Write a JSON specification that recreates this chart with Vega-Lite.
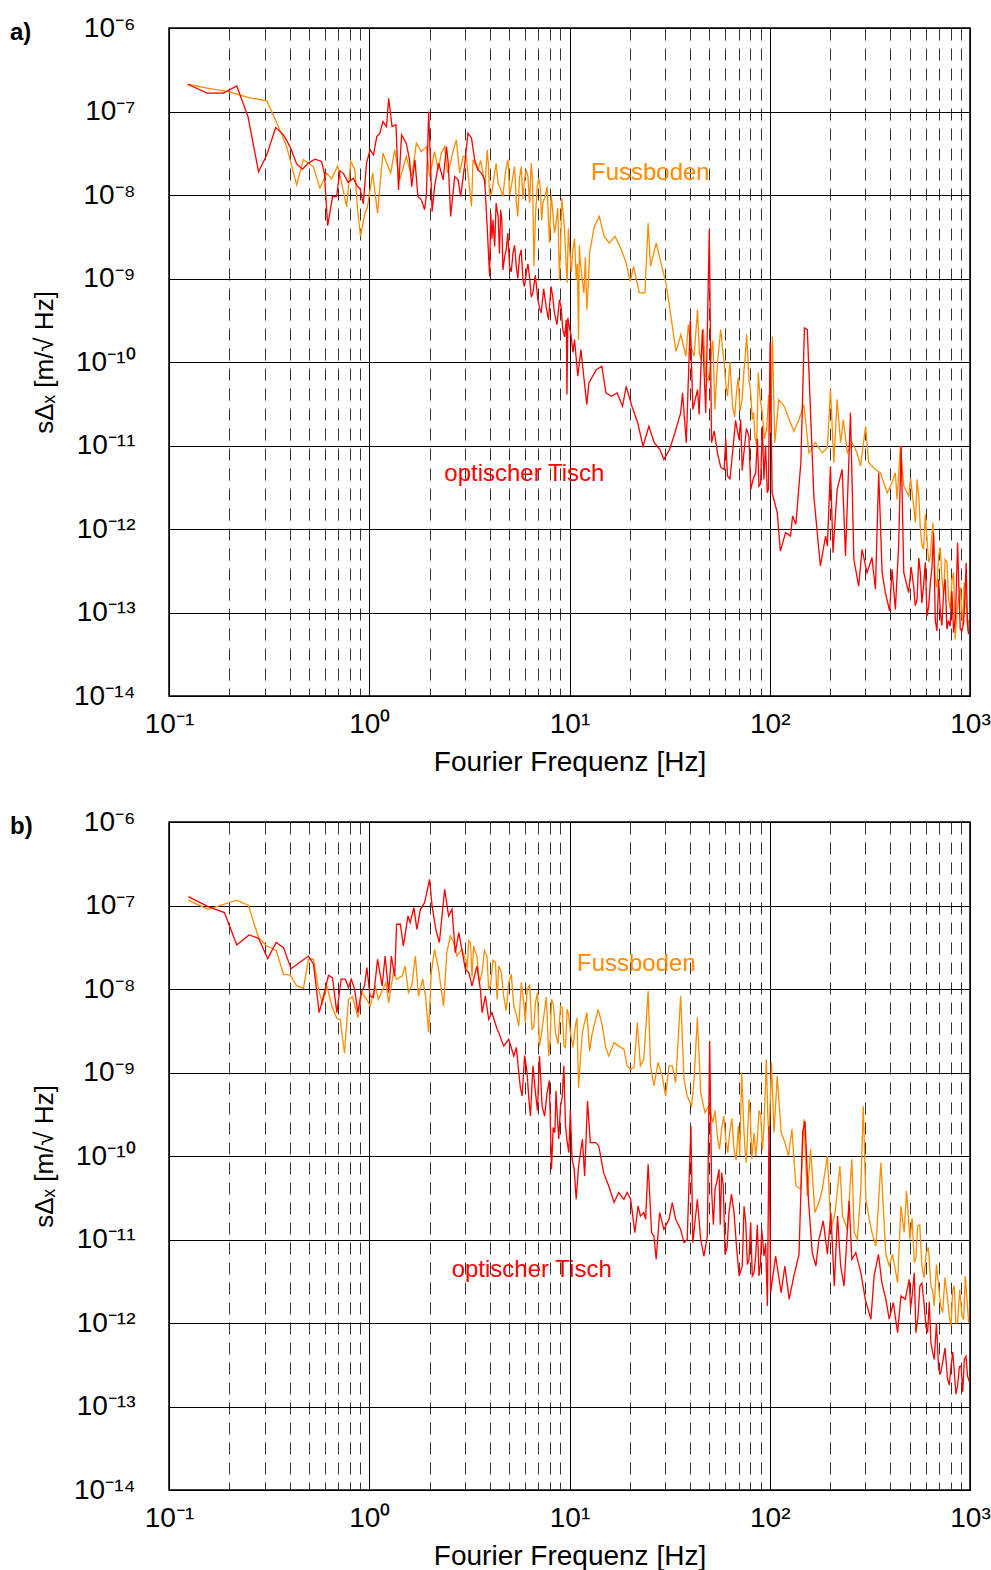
{
"$schema": "https://vega.github.io/schema/vega-lite/v6.json",
"autosize": {"type": "none"},
"padding": {"left": 169, "top": 28, "right": 822, "bottom": 1542},
"background": "white",
"bounds": "flush",
"spacing": 126,
"datasets": {
"aF": [
{"f":0.124,"s":2.12e-7},{"f":0.155,"s":1.90e-7},{"f":0.198,"s":1.73e-7},{"f":0.250,"s":1.47e-7},{"f":0.308,"s":1.34e-7},{"f":0.352,"s":6.59e-8},{"f":0.387,"s":3.80e-8},{"f":0.434,"s":1.32e-8},{"f":0.469,"s":2.64e-8},{"f":0.526,"s":2.19e-8},{"f":0.567,"s":1.21e-8},{"f":0.613,"s":1.83e-8},{"f":0.649,"s":1.56e-8},{"f":0.695,"s":2.23e-8},{"f":0.728,"s":1.40e-8},{"f":0.771,"s":7.28e-9},{"f":0.809,"s":2.52e-8},{"f":0.848,"s":2.00e-8},{"f":0.874,"s":6.65e-9},{"f":0.905,"s":3.19e-9},{"f":0.951,"s":6.07e-9},{"f":0.977,"s":6.97e-9},{"f":1.04,"s":1.83e-8},{"f":1.10,"s":6.07e-9},{"f":1.17,"s":3.17e-8},{"f":1.28,"s":1.83e-8},{"f":1.34,"s":3.48e-8},{"f":1.42,"s":1.52e-8},{"f":1.53,"s":2.89e-8},{"f":1.63,"s":1.66e-8},{"f":1.72,"s":4.18e-8},{"f":1.82,"s":3.31e-8},{"f":1.93,"s":3.80e-8},{"f":2.00,"s":1.66e-8},{"f":2.12,"s":3.31e-8},{"f":2.21,"s":2.00e-8},{"f":2.29,"s":3.17e-8},{"f":2.38,"s":3.80e-8},{"f":2.46,"s":1.83e-8},{"f":2.52,"s":2.19e-8},{"f":2.62,"s":3.31e-8},{"f":2.72,"s":4.57e-8},{"f":2.83,"s":1.83e-8},{"f":2.94,"s":2.89e-8},{"f":3.05,"s":2.89e-8},{"f":3.24,"s":7.28e-9},{"f":3.30,"s":2.64e-8},{"f":3.49,"s":2.00e-8},{"f":3.70,"s":1.83e-8},{"f":3.88,"s":3.48e-8},{"f":3.99,"s":9.6e-9},{"f":4.20,"s":1.66e-8},{"f":4.40,"s":1.39e-8},{"f":4.65,"s":9.6e-9},{"f":4.93,"s":2.64e-8},{"f":5.12,"s":1.26e-8},{"f":5.32,"s":2.19e-8},{"f":5.52,"s":5.53e-9},{"f":5.74,"s":2.19e-8},{"f":5.96,"s":1.52e-8},{"f":6.20,"s":1.66e-8},{"f":6.44,"s":2.41e-8},{"f":6.64,"s":1.40e-9},{"f":6.90,"s":1.26e-8},{"f":7.16,"s":1.15e-8},{"f":7.36,"s":8.0e-9},{"f":7.73,"s":1.26e-8},{"f":7.94,"s":2.66e-9},{"f":8.26,"s":6.07e-9},{"f":8.57,"s":4.61e-9},{"f":8.91,"s":9.7e-10},{"f":9.15,"s":9.18e-9},{"f":9.43,"s":4.20e-9},{"f":9.73,"s":8.83e-10},{"f":10.0,"s":2.42e-9},{"f":10.4,"s":2.21e-9},{"f":10.8,"s":9.7e-10},{"f":11.1,"s":1.85e-10},{"f":11.3,"s":1.68e-9},{"f":11.8,"s":6.71e-10},{"f":12.2,"s":4.24e-10},{"f":12.6,"s":2.02e-9},{"f":13.3,"s":4.20e-9},{"f":14.1,"s":5.53e-9},{"f":14.9,"s":3.19e-9},{"f":15.8,"s":2.66e-9},{"f":16.9,"s":3.19e-9},{"f":18.0,"s":2.32e-9},{"f":19.2,"s":1.53e-9},{"f":20.1,"s":9.23e-10},{"f":20.9,"s":1.40e-9},{"f":22.3,"s":6.71e-10},{"f":23.8,"s":6.71e-10},{"f":24.7,"s":4.61e-9},{"f":25.4,"s":1.40e-9},{"f":27.1,"s":2.66e-9},{"f":28.9,"s":1.40e-9},{"f":30.3,"s":8.83e-10},{"f":32.1,"s":3.52e-10},{"f":34.0,"s":1.34e-10},{"f":36.0,"s":2.13e-10},{"f":38.1,"s":1.17e-10},{"f":40.4,"s":1.54e-10},{"f":41.9,"s":1.17e-10},{"f":43.6,"s":4.24e-10},{"f":45.3,"s":1.07e-10},{"f":47.9,"s":6.75e-11},{"f":50.7,"s":1.07e-10},{"f":53.2,"s":2.70e-11},{"f":55.2,"s":1.17e-10},{"f":56.9,"s":2.44e-10},{"f":59.2,"s":9.75e-11},{"f":61.5,"s":3.89e-11},{"f":65.2,"s":2.95e-11},{"f":68.4,"s":4.68e-11},{"f":71.0,"s":2.57e-11},{"f":74.4,"s":8.11e-11},{"f":76.7,"s":2.13e-10},{"f":78.7,"s":6.15e-11},{"f":81.8,"s":2.05e-11},{"f":84.3,"s":1.29e-11},{"f":87.7,"s":7.41e-11},{"f":91.8,"s":2.46e-11},{"f":96.5,"s":1.55e-11},{"f":101,"s":1.42e-11},{"f":103,"s":2.03e-10},{"f":106,"s":1.08e-11},{"f":109,"s":2.24e-11},{"f":111,"s":3.55e-11},{"f":118,"s":2.95e-11},{"f":125,"s":2.05e-11},{"f":132,"s":1.48e-11},{"f":140,"s":2.05e-11},{"f":148,"s":3.09e-11},{"f":157,"s":8.18e-12},{"f":169,"s":1.08e-11},{"f":183,"s":8.18e-12},{"f":194,"s":9.38e-12},{"f":201,"s":4.68e-11},{"f":209,"s":6.21e-12},{"f":217,"s":3.55e-11},{"f":226,"s":1.08e-11},{"f":233,"s":2.05e-11},{"f":244,"s":8.18e-12},{"f":258,"s":1.08e-11},{"f":273,"s":8.18e-12},{"f":284,"s":5.65e-12},{"f":301,"s":1.70e-11},{"f":312,"s":6.21e-12},{"f":337,"s":5.16e-12},{"f":357,"s":4.71e-12},{"f":386,"s":2.72e-12},{"f":408,"s":3.58e-12},{"f":424,"s":4.71e-12},{"f":432,"s":2.26e-12},{"f":449,"s":9.8e-12},{"f":467,"s":3.26e-12},{"f":494,"s":2.48e-12},{"f":523,"s":1.88e-12},{"f":544,"s":3.92e-12},{"f":565,"s":9.89e-13},{"f":586,"s":5.70e-13},{"f":610,"s":7.52e-13},{"f":634,"s":4.74e-13},{"f":653,"s":1.19e-12},{"f":671,"s":2.49e-13},{"f":697,"s":4.74e-13},{"f":725,"s":2.49e-13},{"f":752,"s":4.33e-13},{"f":782,"s":1.44e-13},{"f":813,"s":2.49e-13},{"f":844,"s":4.78e-14},{"f":877,"s":1.44e-13},{"f":911,"s":9.98e-14},{"f":935,"s":2.28e-13},{"f":965,"s":9.08e-14},{"f":983,"s":8.29e-14},
{"f":3.60,"s":2.6e-8},{"f":3.79,"s":1.3e-8},{"f":3.94,"s":2.2e-8},{"f":4.10,"s":1.1e-8},{"f":4.30,"s":2.4e-8},{"f":4.52,"s":1.2e-8},{"f":4.79,"s":1.9e-8},{"f":5.02,"s":1.0e-8},{"f":5.22,"s":1.7e-8},{"f":5.42,"s":8.5e-9},{"f":5.63,"s":1.6e-8},{"f":5.85,"s":9.0e-9},{"f":6.08,"s":2.0e-8},{"f":6.32,"s":8.0e-9},{"f":6.54,"s":1.5e-8},{"f":6.77,"s":6.0e-9},{"f":7.03,"s":1.6e-8},{"f":7.26,"s":5.0e-9},{"f":7.55,"s":9.5e-9},{"f":7.84,"s":5.5e-9},{"f":8.10,"s":1.0e-8},{"f":8.41,"s":3.5e-9},{"f":8.74,"s":7.0e-9},{"f":9.03,"s":2.5e-9},{"f":9.29,"s":6.0e-9},{"f":9.58,"s":1.8e-9},{"f":9.87,"s":4.0e-9},{"f":10.2,"s":1.2e-9},{"f":10.6,"s":3.0e-9},{"f":10.95,"s":1.5e-9},{"f":11.2,"s":2.5e-9},{"f":11.55,"s":1.0e-9},{"f":12.0,"s":1.8e-9},{"f":12.4,"s":8.0e-10},
{"f":39.2,"s":2.8e-10},{"f":42.7,"s":2.2e-10},{"f":44.5,"s":1.3e-10},{"f":46.6,"s":2.5e-10},{"f":49.3,"s":6.0e-11},{"f":52.0,"s":1.8e-10},{"f":54.2,"s":6.0e-11},{"f":58.0,"s":1.5e-10},{"f":60.3,"s":5.5e-11},{"f":63.3,"s":1.0e-10},{"f":66.8,"s":2.2e-11},{"f":69.7,"s":6.5e-11},{"f":72.7,"s":3.5e-11},{"f":75.5,"s":1.2e-10},{"f":80.2,"s":4.5e-11},{"f":83.0,"s":2.5e-11},{"f":86.0,"s":1.0e-11},{"f":89.7,"s":3.5e-11},{"f":94.1,"s":1.2e-11},{"f":98.7,"s":4.0e-11},
{"f":505,"s":4.0e-12},{"f":534,"s":1.2e-12},{"f":555,"s":2.5e-12},{"f":575,"s":6.5e-13},{"f":598,"s":1.5e-12},{"f":622,"s":4.0e-13},{"f":646,"s":9.0e-13},{"f":684,"s":2.0e-13},{"f":711,"s":6.0e-13},{"f":738,"s":1.6e-13},{"f":767,"s":4.0e-13},{"f":796,"s":1.1e-13},{"f":828,"s":3.0e-13},{"f":860,"s":1.0e-13},{"f":894,"s":2.0e-13},{"f":922,"s":7.0e-14},{"f":950,"s":1.6e-13},{"f":975,"s":6.0e-14}
],
"aT": [
{"f":0.124,"s":2.12e-7},{"f":0.155,"s":1.66e-7},{"f":0.187,"s":1.66e-7},{"f":0.218,"s":2.02e-7},{"f":0.248,"s":8.69e-8},{"f":0.280,"s":1.90e-8},{"f":0.308,"s":3.03e-8},{"f":0.341,"s":6.41e-8},{"f":0.373,"s":5.25e-8},{"f":0.402,"s":3.80e-8},{"f":0.434,"s":2.36e-8},{"f":0.464,"s":2.04e-8},{"f":0.497,"s":2.41e-8},{"f":0.536,"s":2.69e-8},{"f":0.578,"s":2.52e-8},{"f":0.597,"s":1.83e-8},{"f":0.620,"s":4.29e-9},{"f":0.656,"s":9.6e-9},{"f":0.687,"s":9.6e-9},{"f":0.714,"s":1.95e-8},{"f":0.742,"s":1.83e-8},{"f":0.785,"s":1.41e-8},{"f":0.832,"s":1.59e-8},{"f":0.874,"s":1.26e-8},{"f":0.898,"s":1.21e-8},{"f":0.934,"s":7.85e-9},{"f":0.969,"s":2.41e-8},{"f":1.01,"s":3.48e-8},{"f":1.05,"s":3.03e-8},{"f":1.09,"s":5.01e-8},{"f":1.13,"s":5.50e-8},{"f":1.17,"s":7.57e-8},{"f":1.22,"s":6.59e-8},{"f":1.25,"s":1.44e-7},{"f":1.30,"s":6.59e-8},{"f":1.36,"s":6.92e-8},{"f":1.40,"s":1.15e-8},{"f":1.45,"s":5.25e-8},{"f":1.53,"s":4.18e-8},{"f":1.59,"s":2.64e-8},{"f":1.63,"s":1.26e-8},{"f":1.69,"s":2.64e-8},{"f":1.75,"s":9.6e-9},{"f":1.82,"s":8.77e-9},{"f":1.89,"s":6.65e-9},{"f":1.93,"s":1.05e-8},{"f":1.98,"s":9.98e-8},{"f":2.03,"s":1.83e-8},{"f":2.06,"s":6.35e-9},{"f":2.12,"s":1.26e-8},{"f":2.22,"s":2.41e-8},{"f":2.34,"s":1.52e-8},{"f":2.43,"s":3.80e-8},{"f":2.48,"s":2.41e-8},{"f":2.55,"s":5.53e-9},{"f":2.67,"s":1.66e-8},{"f":2.78,"s":1.52e-8},{"f":2.86,"s":9.6e-9},{"f":2.99,"s":2.19e-8},{"f":3.11,"s":5.50e-8},{"f":3.24,"s":4.80e-8},{"f":3.36,"s":2.64e-8},{"f":3.49,"s":2.00e-8},{"f":3.63,"s":1.83e-8},{"f":3.77,"s":1.52e-8},{"f":3.88,"s":4.20e-9},{"f":3.99,"s":1.06e-9},{"f":4.04,"s":6.07e-9},{"f":4.15,"s":5.05e-9},{"f":4.23,"s":2.42e-9},{"f":4.40,"s":5.53e-9},{"f":4.53,"s":6.65e-9},{"f":4.65,"s":1.27e-9},{"f":4.83,"s":2.21e-9},{"f":5.02,"s":1.40e-9},{"f":5.22,"s":2.02e-9},{"f":5.42,"s":1.40e-9},{"f":5.63,"s":1.84e-9},{"f":5.85,"s":9.7e-10},{"f":6.08,"s":1.16e-9},{"f":6.31,"s":1.06e-9},{"f":6.56,"s":6.71e-10},{"f":6.95,"s":5.57e-10},{"f":7.22,"s":3.86e-10},{"f":7.64,"s":4.63e-10},{"f":8.09,"s":8.05e-10},{"f":8.41,"s":3.86e-10},{"f":8.91,"s":5.57e-10},{"f":9.26,"s":2.44e-10},{"f":9.64,"s":3.21e-10},{"f":9.71,"s":4.07e-11},{"f":9.81,"s":3.37e-10},{"f":10.2,"s":2.03e-10},{"f":10.6,"s":1.85e-10},{"f":11.0,"s":6.75e-11},{"f":11.4,"s":1.41e-10},{"f":12.2,"s":3.09e-11},{"f":12.5,"s":5.62e-11},{"f":13.6,"s":8.11e-11},{"f":14.5,"s":8.89e-11},{"f":15.2,"s":4.27e-11},{"f":16.2,"s":3.89e-11},{"f":17.3,"s":4.27e-11},{"f":18.4,"s":2.95e-11},{"f":19.2,"s":5.12e-11},{"f":20.5,"s":2.95e-11},{"f":21.9,"s":1.87e-11},{"f":23.3,"s":9.8e-12},{"f":24.9,"s":1.70e-11},{"f":26.5,"s":1.08e-11},{"f":28.3,"s":8.95e-12},{"f":29.6,"s":6.81e-12},{"f":31.6,"s":8.95e-12},{"f":33.6,"s":1.42e-11},{"f":35.9,"s":2.46e-11},{"f":36.7,"s":4.27e-11},{"f":38.3,"s":1.08e-11},{"f":40.1,"s":3.13e-10},{"f":41.3,"s":2.70e-11},{"f":43.6,"s":4.68e-11},{"f":44.4,"s":2.35e-11},{"f":46.1,"s":2.44e-10},{"f":47.9,"s":2.46e-11},{"f":49.9,"s":3.84e-9},{"f":51.2,"s":1.08e-11},{"f":54.8,"s":8.18e-12},{"f":59.2,"s":5.16e-12},{"f":61.5,"s":4.30e-12},{"f":65.2,"s":8.18e-12},{"f":70.2,"s":1.18e-11},{"f":71.6,"s":2.05e-11},{"f":74.3,"s":8.18e-12},{"f":78.7,"s":1.29e-11},{"f":80.4,"s":2.98e-12},{"f":85.1,"s":4.71e-12},{"f":88.3,"s":3.26e-12},{"f":91.8,"s":1.70e-11},{"f":93.5,"s":3.92e-12},{"f":97.2,"s":2.72e-12},{"f":100.4,"s":1.69e-10},{"f":102.8,"s":2.72e-12},{"f":109,"s":1.57e-12},{"f":113,"s":5.44e-13},{"f":120,"s":9.04e-13},{"f":127,"s":8.22e-13},{"f":130,"s":1.43e-12},{"f":135,"s":1.14e-12},{"f":143,"s":6.21e-12},{"f":149,"s":2.56e-10},{"f":154,"s":2.44e-10},{"f":166,"s":2.48e-12},{"f":179,"s":3.60e-13},{"f":190,"s":8.22e-13},{"f":194,"s":6.24e-13},{"f":201,"s":5.65e-12},{"f":207,"s":5.21e-13},{"f":217,"s":2.98e-12},{"f":230,"s":5.16e-12},{"f":239,"s":4.74e-13},{"f":253,"s":2.46e-11},{"f":263,"s":4.33e-13},{"f":278,"s":2.07e-13},{"f":289,"s":5.70e-13},{"f":306,"s":3.00e-13},{"f":324,"s":4.54e-13},{"f":337,"s":1.90e-13},{"f":350,"s":4.71e-12},{"f":364,"s":3.00e-13},{"f":378,"s":1.73e-13},{"f":397,"s":1.04e-13},{"f":408,"s":3.29e-13},{"f":424,"s":1.09e-13},{"f":440,"s":6.24e-13},{"f":453,"s":9.8e-12},{"f":467,"s":3.00e-13},{"f":494,"s":1.73e-13},{"f":523,"s":2.07e-13},{"f":544,"s":1.44e-13},{"f":565,"s":3.00e-13},{"f":586,"s":2.07e-13},{"f":610,"s":9.08e-14},{"f":634,"s":2.28e-13},{"f":658,"s":9.04e-13},{"f":684,"s":6.01e-14},{"f":711,"s":9.98e-14},{"f":738,"s":1.73e-13},{"f":767,"s":6.30e-14},{"f":796,"s":6.90e-14},{"f":828,"s":5.74e-14},{"f":867,"s":6.85e-13},{"f":894,"s":6.30e-14},{"f":929,"s":7.57e-14},{"f":957,"s":3.95e-13},{"f":983,"s":5.48e-14},
{"f":4.10,"s":3.0e-9},{"f":4.30,"s":8.0e-9},{"f":4.47,"s":2.0e-9},{"f":4.59,"s":5.0e-9},{"f":4.74,"s":1.8e-9},{"f":4.92,"s":3.5e-9},{"f":5.12,"s":1.2e-9},{"f":5.32,"s":2.5e-9},{"f":5.52,"s":1.0e-9},{"f":5.74,"s":2.2e-9},{"f":5.96,"s":8.0e-10},{"f":6.20,"s":1.5e-9},{"f":6.44,"s":6.0e-10},{"f":6.75,"s":1.1e-9},{"f":7.08,"s":4.5e-10},{"f":7.43,"s":7.5e-10},{"f":7.86,"s":3.2e-10},{"f":8.25,"s":6.0e-10},{"f":8.66,"s":2.8e-10},{"f":9.08,"s":4.5e-10},{"f":9.45,"s":2.0e-10},{"f":10.0,"s":2.6e-10},{"f":10.4,"s":1.3e-10},
{"f":52.8,"s":1.5e-11},{"f":56.9,"s":5.5e-12},{"f":60.3,"s":1.2e-11},{"f":63.3,"s":4.0e-12},{"f":67.5,"s":2.0e-11},{"f":72.9,"s":5.0e-12},{"f":76.5,"s":1.6e-11},{"f":82.7,"s":4.0e-12},{"f":86.8,"s":1.2e-11},{"f":90.0,"s":3.5e-12},{"f":95.3,"s":1.0e-11},{"f":98.5,"s":3.0e-12},
{"f":508,"s":3.5e-13},{"f":533,"s":1.2e-13},{"f":555,"s":4.5e-13},{"f":575,"s":1.3e-13},{"f":598,"s":4.0e-13},{"f":622,"s":1.2e-13},{"f":646,"s":3.5e-13},{"f":671,"s":8.0e-14},{"f":697,"s":2.5e-13},{"f":724,"s":7.0e-14},{"f":752,"s":2.5e-13},{"f":781,"s":8.0e-14},{"f":812,"s":1.8e-13},{"f":847,"s":9.0e-14},{"f":880,"s":2.0e-13},{"f":911,"s":6.0e-14},{"f":943,"s":1.5e-13},{"f":970,"s":8.0e-14}
],
"bF": [
{"f":0.125,"s":1.15e-7},{"f":0.157,"s":8.99e-8},{"f":0.218,"s":1.16e-7},{"f":0.249,"s":1.00e-7},{"f":0.280,"s":4.13e-8},{"f":0.308,"s":3.27e-8},{"f":0.343,"s":2.90e-8},{"f":0.373,"s":1.50e-8},{"f":0.403,"s":1.47e-8},{"f":0.434,"s":1.09e-8},{"f":0.469,"s":1.02e-8},{"f":0.497,"s":2.27e-8},{"f":0.527,"s":2.27e-8},{"f":0.558,"s":9.91e-9},{"f":0.584,"s":6.74e-9},{"f":0.614,"s":1.09e-8},{"f":0.650,"s":6.25e-9},{"f":0.689,"s":4.43e-9},{"f":0.716,"s":4.34e-9},{"f":0.752,"s":1.70e-9},{"f":0.788,"s":7.53e-9},{"f":0.825,"s":8.11e-9},{"f":0.877,"s":4.54e-9},{"f":0.918,"s":9.06e-9},{"f":0.973,"s":7.53e-9},{"f":1.01,"s":6.25e-9},{"f":1.07,"s":1.09e-8},{"f":1.11,"s":7.53e-9},{"f":1.16,"s":9.46e-9},{"f":1.21,"s":1.19e-8},{"f":1.25,"s":6.87e-9},{"f":1.32,"s":1.57e-8},{"f":1.37,"s":1.31e-8},{"f":1.46,"s":1.43e-8},{"f":1.51,"s":1.88e-8},{"f":1.57,"s":9.06e-9},{"f":1.63,"s":1.09e-8},{"f":1.70,"s":2.48e-8},{"f":1.76,"s":8.24e-9},{"f":1.85,"s":1.31e-8},{"f":1.91,"s":8.24e-9},{"f":1.98,"s":3.01e-9},{"f":2.04,"s":1.57e-8},{"f":2.12,"s":2.99e-8},{"f":2.22,"s":1.72e-8},{"f":2.35,"s":6.25e-9},{"f":2.44,"s":2.73e-8},{"f":2.54,"s":4.32e-8},{"f":2.64,"s":3.60e-8},{"f":2.74,"s":2.48e-8},{"f":2.90,"s":2.99e-8},{"f":3.08,"s":1.72e-8},{"f":3.20,"s":3.60e-8},{"f":3.32,"s":3.27e-8},{"f":3.45,"s":2.48e-8},{"f":3.66,"s":1.57e-8},{"f":3.87,"s":2.48e-8},{"f":4.03,"s":1.09e-8},{"f":4.27,"s":2.07e-8},{"f":4.43,"s":1.88e-8},{"f":4.69,"s":8.24e-9},{"f":4.97,"s":1.19e-8},{"f":5.27,"s":6.25e-9},{"f":5.58,"s":3.61e-9},{"f":5.91,"s":6.87e-9},{"f":6.14,"s":9.91e-9},{"f":6.50,"s":3.29e-9},{"f":6.76,"s":6.87e-9},{"f":7.08,"s":2.07e-9},{"f":7.44,"s":4.75e-9},{"f":7.88,"s":1.58e-9},{"f":8.13,"s":7.53e-9},{"f":8.51,"s":3.01e-9},{"f":9.02,"s":6.25e-9},{"f":9.37,"s":2.07e-9},{"f":9.73,"s":5.71e-9},{"f":10.1,"s":3.01e-9},{"f":10.7,"s":3.61e-9},{"f":11.1,"s":6.59e-10},{"f":11.6,"s":3.01e-9},{"f":12.2,"s":5.21e-9},{"f":13.0,"s":3.01e-9},{"f":13.9,"s":5.71e-9},{"f":14.6,"s":3.61e-9},{"f":15.1,"s":2.07e-9},{"f":15.7,"s":1.58e-9},{"f":16.7,"s":2.28e-9},{"f":17.6,"s":2.07e-9},{"f":18.7,"s":1.90e-9},{"f":19.4,"s":1.20e-9},{"f":20.2,"s":1.09e-9},{"f":21.0,"s":1.15e-9},{"f":21.8,"s":3.96e-9},{"f":22.6,"s":1.20e-9},{"f":23.5,"s":1.44e-9},{"f":24.7,"s":9.46e-9},{"f":25.4,"s":1.20e-9},{"f":26.4,"s":6.89e-10},{"f":27.7,"s":1.32e-9},{"f":29.0,"s":9.08e-10},{"f":30.2,"s":5.24e-10},{"f":31.4,"s":1.20e-9},{"f":32.6,"s":1.20e-9},{"f":33.9,"s":7.57e-10},{"f":35.9,"s":8.24e-9},{"f":37.3,"s":8.29e-10},{"f":38.7,"s":5.24e-10},{"f":40.7,"s":3.97e-10},{"f":41.8,"s":7.57e-10},{"f":43.5,"s":4.54e-9},{"f":45.2,"s":5.74e-10},{"f":47.5,"s":3.31e-10},{"f":49.6,"s":3.97e-10},{"f":52.0,"s":2.51e-10},{"f":54.7,"s":1.74e-10},{"f":57.5,"s":2.09e-10},{"f":60.3,"s":1.58e-10},{"f":63.1,"s":1.91e-10},{"f":66.3,"s":1.20e-10},{"f":69.7,"s":2.29e-10},{"f":70.8,"s":1.00e-10},{"f":72.4,"s":9.98e-10},{"f":74.4,"s":1.91e-10},{"f":76.4,"s":8.34e-11},{"f":78.8,"s":4.78e-10},{"f":81.3,"s":9.14e-11},{"f":83.5,"s":1.91e-10},{"f":86.7,"s":1.58e-10},{"f":90.2,"s":3.01e-10},{"f":93.6,"s":2.29e-10},{"f":96.2,"s":1.44e-9},{"f":99.2,"s":1.58e-10},{"f":102,"s":1.32e-9},{"f":105,"s":1.91e-10},{"f":109,"s":9.08e-10},{"f":114,"s":1.91e-10},{"f":119,"s":1.45e-10},{"f":124,"s":1.00e-10},{"f":129,"s":2.09e-10},{"f":135,"s":4.38e-11},{"f":143,"s":3.99e-11},{"f":148,"s":2.75e-10},{"f":154,"s":3.32e-11},{"f":160,"s":1.20e-10},{"f":168,"s":2.10e-11},{"f":176,"s":2.77e-11},{"f":183,"s":3.99e-11},{"f":194,"s":1.00e-10},{"f":202,"s":1.32e-11},{"f":212,"s":2.10e-11},{"f":224,"s":7.59e-11},{"f":231,"s":1.91e-11},{"f":244,"s":1.32e-11},{"f":257,"s":9.14e-11},{"f":264,"s":1.21e-11},{"f":274,"s":1.00e-11},{"f":285,"s":3.99e-11},{"f":293,"s":3.97e-10},{"f":302,"s":3.03e-11},{"f":314,"s":1.75e-11},{"f":324,"s":1.21e-11},{"f":339,"s":8.36e-12},{"f":359,"s":8.34e-11},{"f":380,"s":6.65e-12},{"f":395,"s":4.82e-12},{"f":410,"s":6.65e-12},{"f":435,"s":3.05e-12},{"f":452,"s":2.52e-11},{"f":469,"s":1.21e-11},{"f":482,"s":3.81e-11},{"f":501,"s":1.00e-11},{"f":527,"s":5.28e-12},{"f":547,"s":1.45e-11},{"f":575,"s":4.82e-12},{"f":603,"s":6.65e-12},{"f":638,"s":2.77e-12},{"f":663,"s":1.60e-12},{"f":697,"s":2.77e-12},{"f":730,"s":1.33e-12},{"f":773,"s":1.92e-12},{"f":804,"s":9.2e-13},{"f":835,"s":2.77e-12},{"f":867,"s":1.01e-12},{"f":912,"s":1.21e-12},{"f":947,"s":3.66e-12},{"f":984,"s":1.01e-12},
{"f":3.04,"s":2.2e-8},{"f":3.14,"s":3.8e-8},{"f":3.26,"s":1.4e-8},{"f":3.38,"s":2.8e-8},{"f":3.55,"s":1.2e-8},{"f":3.76,"s":2.9e-8},{"f":3.95,"s":1.0e-8},{"f":4.15,"s":2.2e-8},{"f":4.35,"s":7.5e-9},{"f":4.56,"s":1.6e-8},{"f":4.83,"s":5.5e-9},{"f":5.12,"s":1.5e-8},{"f":5.42,"s":5.0e-9},{"f":5.75,"s":1.2e-8},{"f":6.02,"s":4.0e-9},{"f":6.32,"s":1.1e-8},{"f":6.63,"s":3.5e-9},{"f":6.92,"s":9.0e-9},{"f":7.26,"s":3.0e-9},{"f":7.66,"s":8.0e-9},{"f":8.01,"s":2.5e-9},{"f":8.32,"s":6.5e-9},{"f":8.76,"s":2.2e-9},{"f":9.20,"s":6.0e-9},{"f":9.55,"s":2.0e-9},{"f":9.90,"s":5.0e-9},{"f":10.4,"s":2.0e-9},{"f":10.9,"s":4.5e-9},{"f":11.35,"s":1.5e-9},{"f":11.9,"s":4.0e-9},{"f":12.6,"s":1.8e-9},{"f":13.4,"s":4.0e-9},
{"f":53.3,"s":3.5e-10},{"f":56.1,"s":1.2e-10},{"f":58.9,"s":3.0e-10},{"f":61.7,"s":1.1e-10},{"f":64.7,"s":2.8e-10},{"f":68.0,"s":9.0e-11},{"f":71.6,"s":3.0e-10},{"f":75.4,"s":1.1e-10},{"f":80.0,"s":3.0e-10},{"f":85.1,"s":1.0e-10},{"f":88.4,"s":3.5e-10},{"f":91.9,"s":1.2e-10},{"f":97.8,"s":3.0e-10},
{"f":514,"s":1.8e-11},{"f":537,"s":6.0e-12},{"f":561,"s":1.5e-11},{"f":589,"s":3.5e-12},{"f":620,"s":8.0e-12},{"f":650,"s":2.5e-12},{"f":680,"s":5.0e-12},{"f":713,"s":1.6e-12},{"f":750,"s":3.5e-12},{"f":788,"s":1.2e-12},{"f":820,"s":2.5e-12},{"f":850,"s":1.0e-12},{"f":889,"s":2.5e-12},{"f":930,"s":1.1e-12},{"f":965,"s":2.0e-12}
],
"bT": [
{"f":0.125,"s":1.28e-7},{"f":0.157,"s":9.7e-8},{"f":0.189,"s":8.22e-8},{"f":0.218,"s":3.37e-8},{"f":0.251,"s":4.44e-8},{"f":0.280,"s":4.05e-8},{"f":0.311,"s":2.31e-8},{"f":0.343,"s":3.60e-8},{"f":0.373,"s":3.13e-8},{"f":0.407,"s":1.75e-8},{"f":0.452,"s":2.10e-8},{"f":0.497,"s":2.48e-8},{"f":0.527,"s":1.98e-8},{"f":0.562,"s":5.21e-9},{"f":0.591,"s":8.24e-9},{"f":0.626,"s":1.46e-8},{"f":0.655,"s":1.37e-8},{"f":0.689,"s":5.21e-9},{"f":0.724,"s":1.31e-8},{"f":0.759,"s":1.31e-8},{"f":0.788,"s":1.04e-8},{"f":0.813,"s":1.31e-8},{"f":0.845,"s":9.91e-9},{"f":0.877,"s":5.21e-9},{"f":0.912,"s":9.06e-9},{"f":0.947,"s":1.09e-8},{"f":0.973,"s":1.80e-8},{"f":1.01,"s":8.24e-9},{"f":1.05,"s":7.89e-9},{"f":1.10,"s":2.27e-8},{"f":1.16,"s":1.09e-8},{"f":1.20,"s":2.48e-8},{"f":1.25,"s":9.06e-9},{"f":1.29,"s":2.48e-8},{"f":1.34,"s":1.43e-8},{"f":1.37,"s":5.96e-8},{"f":1.43,"s":5.96e-8},{"f":1.48,"s":3.27e-8},{"f":1.56,"s":7.48e-8},{"f":1.60,"s":6.24e-8},{"f":1.67,"s":9.44e-8},{"f":1.73,"s":5.19e-8},{"f":1.80,"s":8.99e-8},{"f":1.89,"s":1.08e-7},{"f":2.00,"s":2.06e-7},{"f":2.06,"s":9.86e-8},{"f":2.15,"s":5.19e-8},{"f":2.24,"s":3.60e-8},{"f":2.38,"s":1.56e-7},{"f":2.49,"s":7.48e-8},{"f":2.59,"s":8.99e-8},{"f":2.69,"s":2.73e-8},{"f":2.80,"s":4.73e-8},{"f":2.90,"s":2.99e-8},{"f":3.02,"s":1.72e-8},{"f":3.14,"s":1.57e-8},{"f":3.26,"s":1.09e-8},{"f":3.45,"s":1.88e-8},{"f":3.59,"s":9.91e-9},{"f":3.66,"s":5.21e-9},{"f":3.80,"s":8.24e-9},{"f":3.95,"s":4.34e-9},{"f":4.10,"s":5.21e-9},{"f":4.35,"s":3.29e-9},{"f":4.43,"s":3.01e-9},{"f":4.69,"s":2.07e-9},{"f":4.97,"s":2.50e-9},{"f":5.27,"s":1.58e-9},{"f":5.58,"s":9.98e-10},{"f":5.80,"s":5.24e-10},{"f":6.14,"s":9.98e-10},{"f":6.38,"s":3.01e-10},{"f":6.76,"s":5.74e-10},{"f":7.08,"s":1.58e-9},{"f":7.29,"s":3.97e-10},{"f":7.73,"s":5.74e-10},{"f":8.13,"s":6.93e-11},{"f":8.45,"s":1.91e-10},{"f":8.67,"s":3.31e-10},{"f":9.02,"s":3.97e-10},{"f":9.37,"s":1.20e-9},{"f":9.55,"s":2.29e-10},{"f":9.92,"s":1.10e-10},{"f":10.3,"s":9.14e-11},{"f":10.8,"s":3.03e-11},{"f":11.1,"s":7.59e-11},{"f":11.6,"s":1.58e-10},{"f":11.9,"s":5.75e-11},{"f":12.3,"s":4.56e-10},{"f":12.7,"s":1.45e-10},{"f":13.5,"s":1.45e-10},{"f":14.0,"s":1.32e-10},{"f":14.8,"s":6.32e-11},{"f":15.7,"s":4.38e-11},{"f":16.7,"s":2.77e-11},{"f":17.6,"s":3.65e-11},{"f":18.7,"s":3.03e-11},{"f":19.4,"s":3.65e-11},{"f":20.2,"s":3.03e-11},{"f":21.2,"s":1.21e-11},{"f":22.0,"s":2.52e-11},{"f":22.6,"s":1.91e-11},{"f":23.5,"s":2.10e-11},{"f":24.0,"s":1.75e-11},{"f":24.7,"s":7.96e-11},{"f":25.7,"s":1.21e-11},{"f":26.4,"s":1.10e-11},{"f":27.1,"s":5.79e-12},{"f":28.2,"s":2.10e-11},{"f":29.6,"s":1.32e-11},{"f":31.4,"s":1.75e-11},{"f":32.6,"s":2.77e-11},{"f":33.9,"s":1.75e-11},{"f":35.9,"s":1.32e-11},{"f":37.3,"s":9.18e-12},{"f":38.7,"s":1.00e-11},{"f":40.4,"s":2.29e-10},{"f":41.3,"s":9.18e-12},{"f":43.5,"s":3.03e-11},{"f":45.2,"s":1.00e-11},{"f":46.9,"s":6.34e-12},{"f":48.8,"s":1.10e-11},{"f":50.1,"s":2.38e-9},{"f":51.3,"s":3.65e-11},{"f":53.3,"s":3.99e-11},{"f":55.8,"s":6.93e-11},{"f":57.5,"s":6.32e-11},{"f":59.8,"s":6.65e-12},{"f":62.6,"s":2.10e-11},{"f":66.3,"s":2.10e-11},{"f":70.3,"s":3.66e-12},{"f":72.9,"s":4.82e-12},{"f":75.9,"s":1.59e-11},{"f":78.8,"s":5.79e-12},{"f":81.8,"s":3.66e-12},{"f":85.1,"s":6.34e-12},{"f":88.4,"s":3.66e-12},{"f":91.2,"s":1.32e-11},{"f":93.6,"s":6.34e-12},{"f":97.3,"s":1.60e-12},{"f":99.2,"s":2.29e-10},{"f":101,"s":2.31e-12},{"f":107,"s":6.34e-12},{"f":114,"s":2.31e-12},{"f":119,"s":4.82e-12},{"f":125,"s":1.92e-12},{"f":132,"s":3.66e-12},{"f":140,"s":6.65e-12},{"f":146,"s":1.91e-10},{"f":150,"s":2.62e-10},{"f":156,"s":3.03e-11},{"f":163,"s":6.97e-12},{"f":170,"s":4.82e-12},{"f":176,"s":1.00e-11},{"f":185,"s":1.67e-11},{"f":194,"s":6.65e-12},{"f":202,"s":2.10e-11},{"f":210,"s":2.77e-12},{"f":218,"s":1.91e-11},{"f":226,"s":4.82e-12},{"f":235,"s":2.77e-12},{"f":249,"s":2.89e-11},{"f":257,"s":5.79e-12},{"f":269,"s":6.97e-12},{"f":285,"s":4.02e-12},{"f":300,"s":1.92e-12},{"f":320,"s":1.11e-12},{"f":332,"s":3.66e-12},{"f":349,"s":6.65e-12},{"f":363,"s":3.05e-12},{"f":380,"s":1.92e-12},{"f":395,"s":1.11e-12},{"f":414,"s":1.75e-12},{"f":435,"s":7.67e-13},{"f":452,"s":2.10e-12},{"f":475,"s":1.92e-12},{"f":497,"s":3.33e-12},{"f":516,"s":2.31e-12},{"f":537,"s":7.67e-13},{"f":562,"s":2.77e-12},{"f":591,"s":1.60e-12},{"f":614,"s":7.67e-13},{"f":638,"s":5.82e-13},{"f":663,"s":3.67e-13},{"f":697,"s":2.79e-13},{"f":730,"s":3.36e-13},{"f":773,"s":2.12e-13},{"f":804,"s":3.05e-13},{"f":835,"s":2.55e-13},{"f":851,"s":1.40e-13},{"f":867,"s":1.76e-13},{"f":902,"s":3.05e-13},{"f":937,"s":3.67e-13},{"f":972,"s":2.32e-13},
{"f":5.43,"s":2.0e-9},{"f":5.69,"s":6.5e-10},{"f":5.97,"s":1.6e-9},{"f":6.26,"s":5.0e-10},{"f":6.57,"s":1.2e-9},{"f":6.92,"s":3.5e-10},{"f":7.18,"s":9.0e-10},{"f":7.51,"s":3.0e-10},{"f":7.93,"s":8.0e-10},{"f":8.29,"s":2.2e-10},{"f":8.56,"s":6.0e-10},{"f":8.84,"s":1.6e-10},{"f":9.19,"s":5.0e-10},{"f":9.73,"s":1.5e-10},{"f":10.1,"s":3.5e-10},{"f":10.55,"s":7.0e-11},
{"f":52.3,"s":1.5e-11},{"f":54.5,"s":5.0e-11},{"f":56.6,"s":1.5e-11},{"f":58.6,"s":4.5e-11},{"f":61.2,"s":8.0e-12},{"f":64.4,"s":3.5e-11},{"f":68.3,"s":8.0e-12},{"f":74.4,"s":2.5e-11},{"f":77.3,"s":5.0e-12},{"f":80.3,"s":1.6e-11},{"f":83.4,"s":4.0e-12},{"f":86.7,"s":1.5e-11},{"f":89.8,"s":5.0e-12},{"f":95.4,"s":9.0e-12},
{"f":505,"s":1.5e-12},{"f":527,"s":4.0e-12},{"f":550,"s":1.2e-12},{"f":575,"s":3.0e-12},{"f":603,"s":9.0e-13},{"f":626,"s":1.8e-12},{"f":650,"s":4.5e-13},{"f":680,"s":1.0e-12},{"f":713,"s":2.5e-13},{"f":750,"s":5.0e-13},{"f":788,"s":1.8e-13},{"f":820,"s":4.5e-13},{"f":859,"s":1.6e-13},{"f":885,"s":3.0e-13},{"f":920,"s":1.5e-13},{"f":955,"s":4.0e-13},{"f":990,"s":2.0e-13}
],
"aL": [{"f":12.8,"s":1.85e-8,"label":"Fussboden"},{"f":2.37,"s":4.5e-12,"label":"optischer Tisch"}],
"bL": [{"f":10.9,"s":1.98e-8,"label":"Fussboden"},{"f":2.58,"s":4.28e-12,"label":"optischer Tisch"}]
},
"vconcat": [
{
"width": 801, "height": 668,
"title": {"text": "a)", "anchor": "start", "frame": "group", "orient": "top", "offset": 0, "dx": -159, "dy": 43, "baseline": "middle", "fontSize": 24, "fontWeight": "bold", "font": "Liberation Sans", "color": "#000000"},
"encoding": {
"x": {"field": "f", "type": "quantitative", "scale": {"type": "log", "domain": [0.1, 1000], "nice": false},
 "axis": {"values": [0.1,0.2,0.3,0.4,0.5,0.6,0.7,0.8,0.9,1,2,3,4,5,6,7,8,9,10,20,30,40,50,60,70,80,90,100,200,300,400,500,600,700,800,900,1000],
  "labelExpr": "abs(log(datum.value)/LN10-round(log(datum.value)/LN10))<0.01 ? ['10⁻¹','10⁰','10¹','10²','10³'][round(log(datum.value)/LN10)+1] : ''",
  "title": "Fourier Frequenz [Hz]", "labelPadding": 14, "titlePadding": 10,
  "gridColor": {"condition": {"test": "abs(log(datum.value)/LN10-round(log(datum.value)/LN10))<0.01", "value": "#000000"}, "value": "#333333"},
  "gridDash": {"condition": {"test": "abs(log(datum.value)/LN10-round(log(datum.value)/LN10))<0.01", "value": []}, "value": [12, 8]}}},
"y": {"field": "s", "type": "quantitative", "scale": {"type": "log", "domain": [1e-14, 1e-6], "nice": false},
 "axis": {"values": [1e-14,1e-13,1e-12,1e-11,1e-10,1e-9,1e-8,1e-7,1e-6],
  "labelExpr": "['10⁻¹⁴','10⁻¹³','10⁻¹²','10⁻¹¹','10⁻¹⁰','10⁻⁹','10⁻⁸','10⁻⁷','10⁻⁶'][round(log(datum.value)/LN10)+14]",
  "title": "sΔₓ [m/√ Hz]", "labelPadding": 34, "titlePadding": 16, "gridColor": "#000000", "titleFontSize": 26}}
},
"layer": [
{"data": {"name": "aF"}, "mark": {"type": "line", "color": "#ff8c00", "strokeWidth": 1.3, "clip": true}},
{"data": {"name": "aT"}, "mark": {"type": "line", "color": "#ff0000", "strokeWidth": 1.3, "clip": true}},
{"data": {"name": "aL"}, "mark": {"type": "text", "align": "left", "baseline": "middle", "fontSize": 24, "font": "Liberation Sans"},
 "encoding": {"text": {"field": "label"}, "color": {"field": "label", "type": "nominal", "scale": {"domain": ["Fussboden", "optischer Tisch"], "range": ["#ff8c00", "#ff0000"]}, "legend": null}}}
]
},
{
"width": 801, "height": 668,
"title": {"text": "b)", "anchor": "start", "frame": "group", "orient": "top", "offset": 0, "dx": -159, "dy": 43, "baseline": "middle", "fontSize": 24, "fontWeight": "bold", "font": "Liberation Sans", "color": "#000000"},
"encoding": {
"x": {"field": "f", "type": "quantitative", "scale": {"type": "log", "domain": [0.1, 1000], "nice": false},
 "axis": {"values": [0.1,0.2,0.3,0.4,0.5,0.6,0.7,0.8,0.9,1,2,3,4,5,6,7,8,9,10,20,30,40,50,60,70,80,90,100,200,300,400,500,600,700,800,900,1000],
  "labelExpr": "abs(log(datum.value)/LN10-round(log(datum.value)/LN10))<0.01 ? ['10⁻¹','10⁰','10¹','10²','10³'][round(log(datum.value)/LN10)+1] : ''",
  "title": "Fourier Frequenz [Hz]", "labelPadding": 14, "titlePadding": 10,
  "gridColor": {"condition": {"test": "abs(log(datum.value)/LN10-round(log(datum.value)/LN10))<0.01", "value": "#000000"}, "value": "#333333"},
  "gridDash": {"condition": {"test": "abs(log(datum.value)/LN10-round(log(datum.value)/LN10))<0.01", "value": []}, "value": [12, 8]}}},
"y": {"field": "s", "type": "quantitative", "scale": {"type": "log", "domain": [1e-14, 1e-6], "nice": false},
 "axis": {"values": [1e-14,1e-13,1e-12,1e-11,1e-10,1e-9,1e-8,1e-7,1e-6],
  "labelExpr": "['10⁻¹⁴','10⁻¹³','10⁻¹²','10⁻¹¹','10⁻¹⁰','10⁻⁹','10⁻⁸','10⁻⁷','10⁻⁶'][round(log(datum.value)/LN10)+14]",
  "title": "sΔₓ [m/√ Hz]", "labelPadding": 34, "titlePadding": 16, "gridColor": "#000000", "titleFontSize": 26}}
},
"layer": [
{"data": {"name": "bF"}, "mark": {"type": "line", "color": "#ff8c00", "strokeWidth": 1.3, "clip": true}},
{"data": {"name": "bT"}, "mark": {"type": "line", "color": "#ff0000", "strokeWidth": 1.3, "clip": true}},
{"data": {"name": "bL"}, "mark": {"type": "text", "align": "left", "baseline": "middle", "fontSize": 24, "font": "Liberation Sans"},
 "encoding": {"text": {"field": "label"}, "color": {"field": "label", "type": "nominal", "scale": {"domain": ["Fussboden", "optischer Tisch"], "range": ["#ff8c00", "#ff0000"]}, "legend": null}}}
]
}
],
"config": {
"font": "Liberation Sans",
"view": {"stroke": "#000000", "strokeWidth": 1.5},
"axis": {"labelFont": "Liberation Sans", "titleFont": "Liberation Sans", "labelColor": "#000000", "titleColor": "#000000", "labelFontSize": 28, "titleFontSize": 28, "titleFontWeight": "normal", "ticks": false, "domain": false, "grid": true, "gridOpacity": 1, "gridWidth": 1, "labelOverlap": false, "labelFlush": false}
}
}
